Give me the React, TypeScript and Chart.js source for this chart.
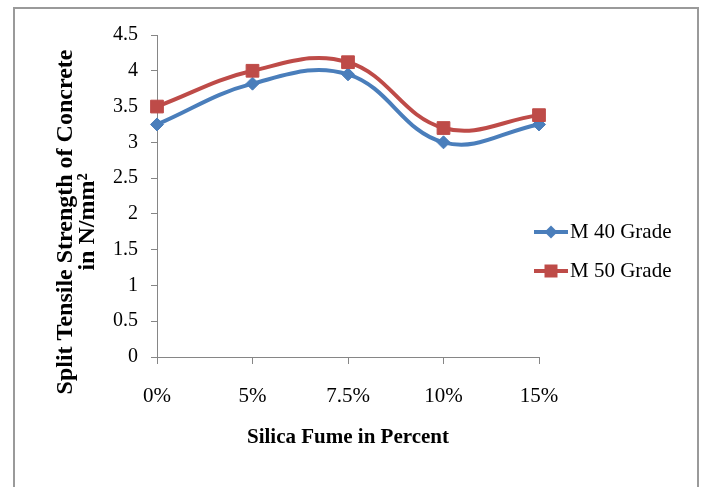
import React, { useEffect, useRef } from "react";
import { Chart, registerables } from "chart.js";

Chart.register(...registerables);

const categories = ["0%", "5%", "7.5%", "10%", "15%"];
const m40Values = [3.25, 3.82, 3.95, 3.0, 3.25];
const m50Values = [3.5, 4.0, 4.12, 3.2, 3.38];
const seriesNames = ["M 40 Grade", "M 50 Grade"];
const seriesColors = ["#4A7EBB", "#BE4B48"];
const yMin = 0;
const yMax = 4.5;
const yStep = 0.5;
const yTitleLines = ["Split Tensile Strength of Concrete", "in N/mm\u00B2"];
const xTitle = "Silica Fume in Percent";

const SERIF = "'Liberation Serif', 'Times New Roman', serif";
const AXIS_GRAY = "#868686";

const yTitlePlugin = {
  id: "yTitleLines",
  afterDraw(chart: any) {
    const ctx = chart.ctx as CanvasRenderingContext2D;
    ctx.save();
    ctx.fillStyle = "#000";
    ctx.font = `bold 24px ${SERIF}`;
    ctx.textAlign = "center";
    ctx.textBaseline = "middle";
    ctx.translate(66, 222);
    ctx.rotate(-Math.PI / 2);
    yTitleLines.forEach((line, i) => {
      ctx.fillText(line, 0, i * 22);
    });
    ctx.restore();
  },
};

const sideLegendPlugin = {
  id: "sideLegend",
  afterDraw(chart: any) {
    const ctx = chart.ctx as CanvasRenderingContext2D;
    const area = chart.chartArea;
    const x0 = area.right - 5;
    const x1 = area.right + 29;
    const xm = (x0 + x1) / 2;
    chart.data.datasets.forEach((ds: any, i: number) => {
      const y = 232 + i * 39;
      ctx.save();
      ctx.strokeStyle = ds.borderColor;
      ctx.lineWidth = 4;
      ctx.beginPath();
      ctx.moveTo(x0, y);
      ctx.lineTo(x1, y);
      ctx.stroke();
      ctx.fillStyle = ds.borderColor;
      ctx.beginPath();
      if (ds.pointStyle === "rect") {
        const s = 6.5;
        ctx.rect(xm - s, y - s, 2 * s, 2 * s);
      } else {
        const r = 6.5;
        ctx.moveTo(xm, y - r);
        ctx.lineTo(xm + r, y);
        ctx.lineTo(xm, y + r);
        ctx.lineTo(xm - r, y);
        ctx.closePath();
      }
      ctx.fill();
      ctx.fillStyle = "#000";
      ctx.font = `21px ${SERIF}`;
      ctx.textAlign = "left";
      ctx.textBaseline = "middle";
      ctx.fillText(ds.label, x1 + 2, y);
      ctx.restore();
    });
  },
};

export default function App() {
  const ref = useRef<HTMLCanvasElement>(null);

  useEffect(() => {
    if (!ref.current) return;
    const chart = new Chart(ref.current, {
      type: "line",
      data: {
        labels: categories,
        datasets: [
          {
            label: seriesNames[0],
            data: m40Values,
            borderColor: seriesColors[0],
            backgroundColor: seriesColors[0],
            pointBackgroundColor: seriesColors[0],
            pointBorderColor: seriesColors[0],
            pointStyle: "rectRot",
            pointRadius: 6.5,
            pointBorderWidth: 1,
            borderWidth: 4,
            tension: 0.4,
            fill: false,
            order: 1,
          },
          {
            label: seriesNames[1],
            data: m50Values,
            borderColor: seriesColors[1],
            backgroundColor: seriesColors[1],
            pointBackgroundColor: seriesColors[1],
            pointBorderColor: seriesColors[1],
            pointStyle: "rect",
            pointRadius: 9,
            pointBorderWidth: 1,
            borderWidth: 4,
            tension: 0.4,
            fill: false,
            order: 0,
          },
        ],
      },
      options: {
        responsive: false,
        animation: false,
        events: [],
        layout: { padding: { left: 0, right: 164, top: 35, bottom: 0 } },
        plugins: {
          legend: { display: false },
          tooltip: { enabled: false },
          title: { display: false },
        },
        scales: {
          x: {
            type: "category",
            offset: false,
            grid: {
              display: true,
              drawOnChartArea: false,
              drawTicks: true,
              tickLength: 7,
              color: AXIS_GRAY,
            },
            border: { display: true, color: AXIS_GRAY, width: 1 },
            ticks: {
              color: "#000",
              font: { family: SERIF, size: 21 },
              padding: 20,
              autoSkip: false,
              maxRotation: 0,
            },
            title: {
              display: true,
              text: xTitle,
              color: "#000",
              font: { family: SERIF, size: 21, weight: "bold" },
              padding: { top: 0, bottom: 37 },
            },
            afterFit(scale: any) {
              scale.height = 130;
            },
          },
          y: {
            min: yMin,
            max: yMax,
            grid: {
              display: true,
              drawOnChartArea: false,
              drawTicks: true,
              tickLength: 6,
              color: AXIS_GRAY,
            },
            border: { display: true, color: AXIS_GRAY, width: 1 },
            ticks: {
              stepSize: yStep,
              color: "#000",
              font: { family: SERIF, size: 20 },
              padding: 13,
              callback: (v: any) => String(v),
            },
            title: { display: false },
            afterFit(scale: any) {
              scale.width = 157;
            },
          },
        },
      },
      plugins: [yTitlePlugin, sideLegendPlugin],
    } as any);
    return () => chart.destroy();
  }, []);

  return (
    <div
      style={{
        position: "absolute",
        left: 0,
        top: 0,
        width: 703,
        height: 487,
        overflow: "hidden",
        background: "#fff",
      }}
    >
      <div
        style={{
          position: "absolute",
          left: 13,
          top: 7,
          width: 686,
          height: 600,
          border: "2px solid #9a9a9a",
          boxSizing: "border-box",
        }}
      />
      <canvas
        ref={ref}
        width={703}
        height={487}
        style={{ position: "absolute", left: 0, top: 0, width: 703, height: 487 }}
      />
    </div>
  );
}
